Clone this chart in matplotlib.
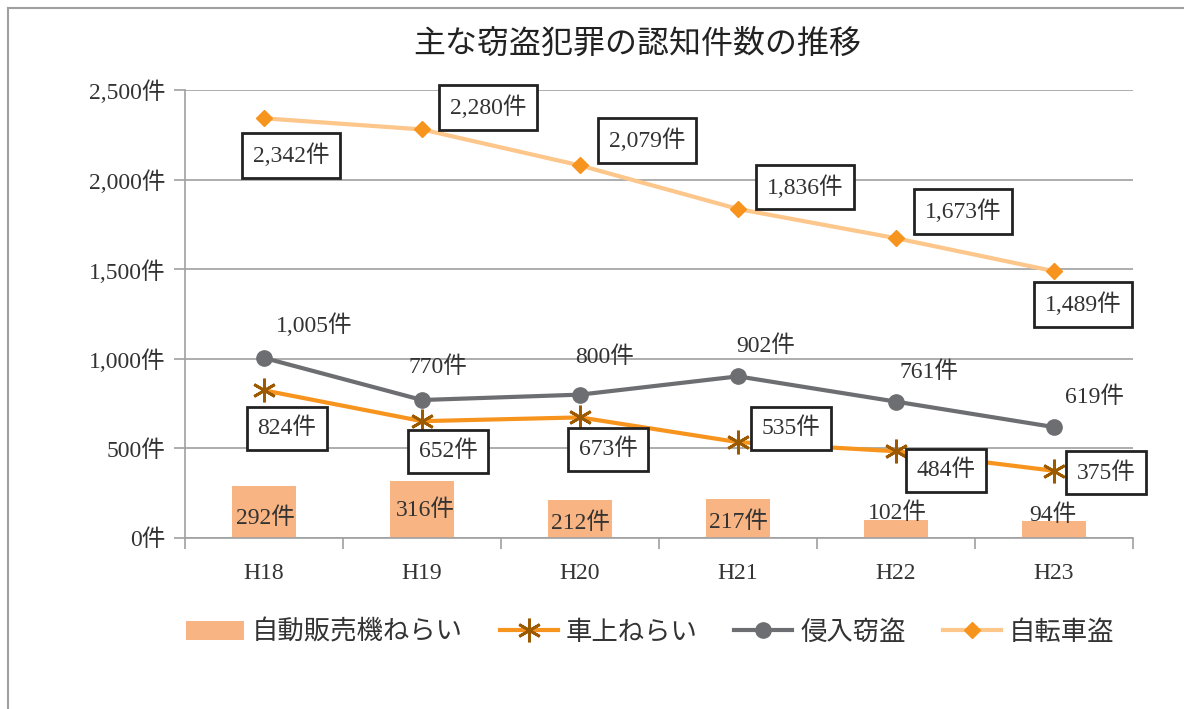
import matplotlib.pyplot as plt
from matplotlib.lines import Line2D
from matplotlib.ticker import FuncFormatter, MultipleLocator

years = ['H18', 'H19', 'H20', 'H21', 'H22', 'H23']
vending = [292, 316, 212, 217, 102, 94]
car = [824, 652, 673, 535, 484, 375]
burglary = [1005, 770, 800, 902, 761, 619]
bicycle = [2342, 2280, 2079, 1836, 1673, 1489]

FONT = ['Liberation Serif', 'Noto Sans CJK JP']
TXT = '#333333'

# label offsets in pixels (dx, dy) relative to the point
bike_off = [(27, -37), (66, 22), (67, 25), (67, 22), (67, 27), (29, -33)]
burg_off = [(50, 33), (16, 33), (25, 37), (28, 30), (33, 29), (40, 30)]
car_off = [(23, -38), (26, -30), (28, -32), (53, 14), (50, -19), (52, -2)]
bar_off = [(1, -33), (3, -29), (0, -23), (0, -23), (1, 7), (-1, 6)]


def fmt(v):
    return f'{v:,}件'


def main():
    fig = plt.figure(figsize=(11.84, 7.09), dpi=100)
    ax = fig.add_axes([185 / 1184, 1 - 538 / 709, 948 / 1184, 448 / 709])
    x = range(len(years))

    b = ax.bar(x, vending, width=0.41, color='#F8B482', zorder=2, label='自動販売機ねらい')
    l1, = ax.plot(x, car, color='#F7941D', lw=3, marker=(6, 2, 0), ms=17, mec='#9C5A00',
                  mew=2, zorder=3, label='車上ねらい')
    l2, = ax.plot(x, burglary, color='#6D6E71', lw=3, marker='o', ms=11, mfc='#6D6E71',
                  mec='#6D6E71', zorder=3, label='侵入窃盗')
    l3, = ax.plot(x, bicycle, color='#FDC68A', lw=3, marker='D', ms=8, mfc='#F7941D',
                  mec='#F7941D', zorder=3, label='自転車盗')

    box = dict(boxstyle='square,pad=0.45', fc='white', ec='#222222', lw=2)
    kw = dict(textcoords='offset pixels', ha='center', va='center', fontsize=17,
              family=FONT, color=TXT, zorder=5)
    for i in x:
        ax.annotate(fmt(bicycle[i]), (i, bicycle[i]), xytext=bike_off[i], bbox=box, **kw)
        ax.annotate(fmt(burglary[i]), (i, burglary[i]), xytext=burg_off[i], **kw)
        ax.annotate(fmt(car[i]), (i, car[i]), xytext=car_off[i], bbox=box, **kw)
        ax.annotate(fmt(vending[i]), (i, vending[i]), xytext=bar_off[i], **kw)

    ax.set_xlim(-0.5, 5.5)
    ax.set_ylim(0, 2500)
    ax.yaxis.set_major_locator(MultipleLocator(500))
    ax.yaxis.set_major_formatter(FuncFormatter(lambda v, p: fmt(int(v))))
    ax.set_xticks(list(x))
    ax.set_xticklabels(years)
    ax.set_xticks([i - 0.5 for i in range(len(years) + 1)], minor=True)
    ax.tick_params(axis='x', which='major', length=0, pad=18)
    ax.tick_params(axis='x', which='minor', length=8, color='#A0A0A0', width=1.2)
    ax.tick_params(axis='y', length=8, color='#A0A0A0', width=1.2, pad=6)
    for lab in ax.get_xticklabels() + ax.get_yticklabels():
        lab.set_family(FONT)
        lab.set_fontsize(17)
        lab.set_color(TXT)
    ax.grid(axis='y', color='#A0A0A0', lw=1.2, zorder=0)
    ax.set_axisbelow(True)
    for s in ['top', 'right']:
        ax.spines[s].set_visible(False)
    for s in ['left', 'bottom']:
        ax.spines[s].set_color('#A0A0A0')
        ax.spines[s].set_linewidth(1.2)

    fig.text(0.538, 1 - 45 / 709, '主な窃盗犯罪の認知件数の推移', ha='center', va='center',
             fontsize=23, family=FONT, color='#222222')

    fig.legend([b, l1, l2, l3], ['自動販売機ねらい', '車上ねらい', '侵入窃盗', '自転車盗'],
               loc='center', bbox_to_anchor=(0.549, 1 - 632 / 709), ncol=4, frameon=False,
               prop={'family': FONT, 'size': 19}, handlelength=2.2, columnspacing=1.4,
               handletextpad=0.3, labelcolor=TXT)

    fig.add_artist(Line2D([8 / 1184, 1], [1 - 8 / 709] * 2, color='#A0A0A0', lw=1.5))
    fig.add_artist(Line2D([8 / 1184] * 2, [0, 1 - 8 / 709], color='#A0A0A0', lw=1.5))

    fig.savefig('out.png', dpi=100)


if __name__ == "__main__":
    main()
